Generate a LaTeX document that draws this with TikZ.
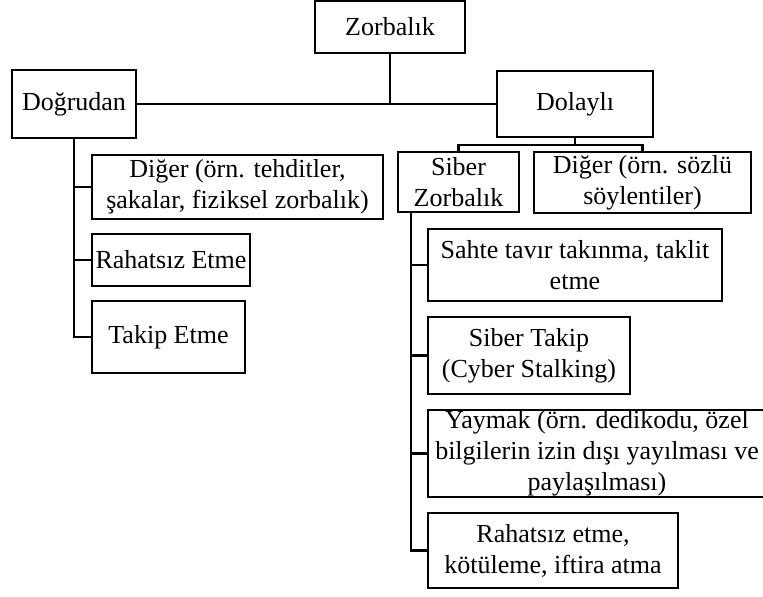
\documentclass[tikz,border=0pt]{standalone}
\usepackage{fontspec}
\setmainfont{Liberation Serif}
\begin{document}
\begin{tikzpicture}[x=1pt,y=-1pt,line width=2.4pt,
  box/.style={draw,align=center,inner sep=0pt,font={\fontsize{26}{31}\selectfont}}]
	\useasboundingbox (0,0) rectangle (763,597);
	\node[box,minimum width=150pt,minimum height=52pt] (zorbalik) at (390,27) {Zorbalık};
	\node[box,minimum width=124pt,minimum height=68pt] (dogrudan) at (74,104) {Doğrudan};
	\node[box,minimum width=156pt,minimum height=66pt] (dolayli) at (575,104) {Dolaylı};
	\node[box,minimum width=121pt,minimum height=60pt] (siber) at (458.5,182) {Siber\\Zorbalık};
	\node[box,minimum width=217pt,minimum height=61pt] (sozlu) at (642.5,182.5) {Diğer (örn. sözlü\\söylentiler)};
	\node[box,minimum width=291pt,minimum height=64pt] (diger) at (237.5,187) {Diğer (örn. tehditler,\\şakalar, fiziksel zorbalık)};
	\node[box,minimum width=158pt,minimum height=52pt] (rahatsiz) at (171,260) {Rahatsız Etme};
	\node[box,minimum width=153pt,minimum height=72pt] (takip) at (168.5,337) {Takip Etme};
	\node[box,minimum width=294pt,minimum height=72pt] (sahte) at (575,265) {Sahte tavır takınma, taklit\\etme};
	\node[box,minimum width=202pt,minimum height=77pt] (sibertakip) at (529,355.5) {Siber Takip\\(Cyber Stalking)};
	\node[box,minimum width=338pt,minimum height=87pt] (yaymak) at (597,453.5) {Yaymak (örn. dedikodu, özel\\bilgilerin izin dışı yayılması ve\\paylaşılması)};
	\node[box,minimum width=250pt,minimum height=75pt] (iftira) at (553,550.5) {Rahatsız etme,\\kötüleme, iftira atma};
	\draw (zorbalik.south) -- (zorbalik.south |- dogrudan.east);
	\draw (dogrudan.east) -- (dolayli.west);
	\coordinate (dol) at ([yshift=-7pt]dolayli.south);
	\draw (dolayli.south) -- (dol) -| (siber.north);
	\draw (dol) -| (sozlu.north);
	\draw (dogrudan.south) |- (diger.west);
	\draw (dogrudan.south) |- (rahatsiz.west);
	\draw (dogrudan.south) |- (takip.west);
	\coordinate (sz) at ([xshift=14pt]siber.south west);
	\draw (sz) |- (sahte.west);
	\draw (sz) |- (sibertakip.west);
	\draw (sz) |- (yaymak.west);
	\draw (sz) |- (iftira.west);
\end{tikzpicture}
\end{document}
